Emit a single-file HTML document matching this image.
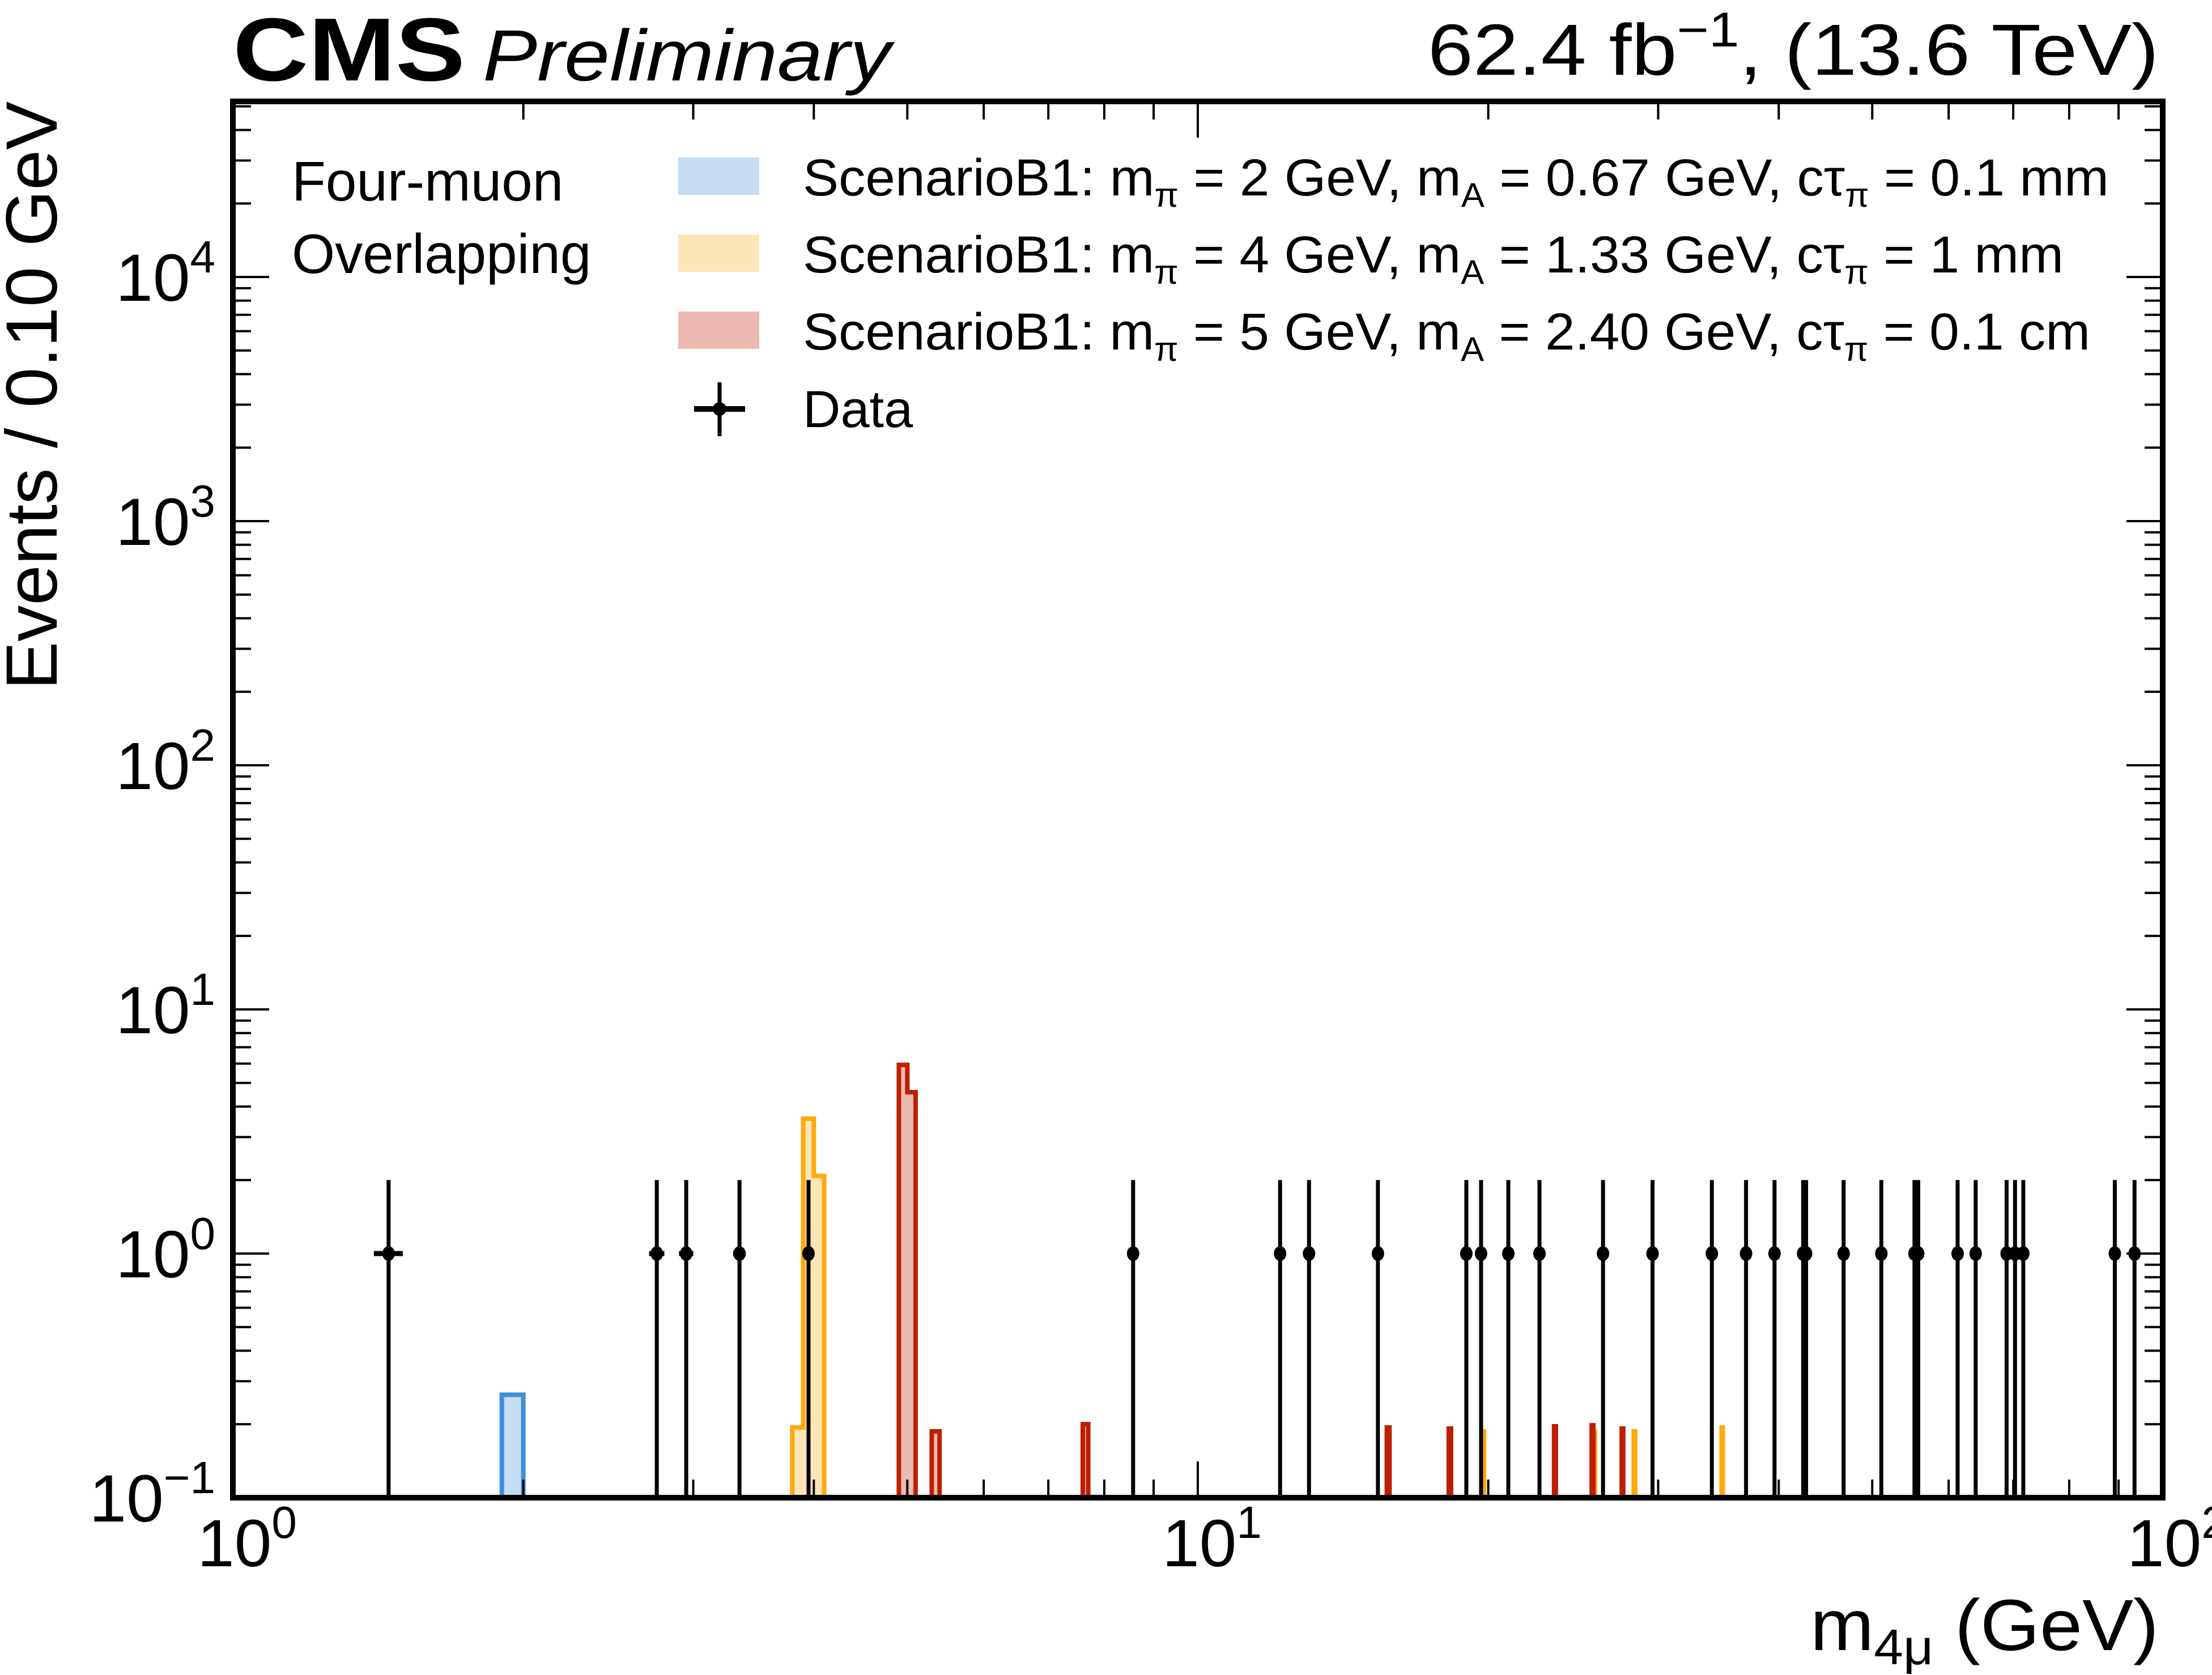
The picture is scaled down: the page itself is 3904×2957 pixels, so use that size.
<!DOCTYPE html>
<html><head><meta charset="utf-8"><style>
html,body{margin:0;padding:0;background:#fff;}
svg{display:block;font-family:"Liberation Sans",Arial,sans-serif;}
</style></head><body>
<svg id="chart" width="3904" height="2957" viewBox="0 0 3904 2957" xmlns="http://www.w3.org/2000/svg">
<rect x="0" y="0" width="3904" height="2957" fill="#fff"/>
<g id="plot"></g>
<g id="axes"></g>
<text x="411" y="142" font-size="158" font-weight="bold" textLength="410" lengthAdjust="spacingAndGlyphs">CMS</text>
<text x="852" y="142" font-size="128" font-style="italic" textLength="720" lengthAdjust="spacingAndGlyphs">Preliminary</text>
<text x="2520" y="132" font-size="128" textLength="1290" lengthAdjust="spacingAndGlyphs">62.4 fb<tspan dy="-50" font-size="86">−1</tspan><tspan dy="50">,  (13.6 TeV)</tspan></text>
<text transform="translate(100,179) rotate(-90)" font-size="128" text-anchor="end">Events / 0.10 GeV</text>
<text x="3195" y="2913" font-size="128" textLength="615" lengthAdjust="spacingAndGlyphs">m<tspan dy="25" font-size="88">4μ</tspan><tspan dy="-25"> (GeV)</tspan></text>
<g>
<text x="515" y="354" font-size="98">Four-muon</text>
<text x="515" y="482" font-size="98">Overlapping</text>
<rect x="1197" y="278" width="143" height="66" fill="#c5dcf2"/>
<rect x="1197" y="414" width="143" height="66" fill="#fde5b7"/>
<rect x="1197" y="550" width="143" height="66" fill="#ecbab1"/>
<text x="1417" y="345" font-size="92" textLength="2305" lengthAdjust="spacingAndGlyphs">ScenarioB1: m<tspan dy="20" font-size="60">π</tspan><tspan dy="-20"> = 2 GeV, m</tspan><tspan dy="20" font-size="60">A</tspan><tspan dy="-20"> = 0.67 GeV, cτ</tspan><tspan dy="20" font-size="60">π</tspan><tspan dy="-20"> =  0.1 mm</tspan></text>
<text x="1417" y="481" font-size="92" textLength="2225" lengthAdjust="spacingAndGlyphs">ScenarioB1: m<tspan dy="20" font-size="60">π</tspan><tspan dy="-20"> = 4 GeV, m</tspan><tspan dy="20" font-size="60">A</tspan><tspan dy="-20"> = 1.33 GeV, cτ</tspan><tspan dy="20" font-size="60">π</tspan><tspan dy="-20"> =  1 mm</tspan></text>
<text x="1417" y="617" font-size="92" textLength="2272" lengthAdjust="spacingAndGlyphs">ScenarioB1: m<tspan dy="20" font-size="60">π</tspan><tspan dy="-20"> = 5 GeV, m</tspan><tspan dy="20" font-size="60">A</tspan><tspan dy="-20"> = 2.40 GeV, cτ</tspan><tspan dy="20" font-size="60">π</tspan><tspan dy="-20"> =  0.1 cm</tspan></text>
<g>
<line x1="1270" y1="675" x2="1270" y2="770" stroke="#000" stroke-width="7"/>
<line x1="1225" y1="722" x2="1315" y2="722" stroke="#000" stroke-width="10"/>
<circle cx="1270" cy="722" r="12" fill="#000"/>
</g>
<text x="1417" y="754" font-size="92">Data</text>
</g>
</svg>
<script>
// ---- data ----
const dataMass = [1.45,2.75,2.95,3.35,3.95,8.57,12.17,13.04,15.37,18.98,19.66,20.98,22.6,26.3,29.6,34.1,37.0,39.6,42.4,42.7,46.7,51.1,55.3,55.8,61.3,64.0,68.9,70.3,71.7,89.2,93.5];
const dataCounts = [1,1,1,1,1,1,1,1,1,1,1,1,1,1,1,1,1,1,1,1,1,1,1,1,1,1,1,1,1,1,1];
const dataErrUp = [1,1,1,1,1,1,1,1,1,1,1,1,1,1,1,1,1,1,1,1,1,1,1,1,1,1,1,1,1,1,1];
const blueEdges = [1.9];
const blueValues = [0.264];
const orangeEdges = [3.8,3.9,4.0,19.7,25.7,28.3,34.9];
const orangeValues = [0.194,3.57,2.08,0.187,0.186,0.187,0.194];
const redEdges = [4.9,5.0,5.3,7.6,15.7,18.2,23.4,25.6,27.5];
const redValues = [5.93,4.58,0.187,0.2,0.194,0.192,0.196,0.198,0.192];
const binWidth = 0.1;
const xTickVals = [1,10,100];
const xTickExp = ["0","1","2"];
const yTickExp = ["−1","0","1","2","3","4"];

// ---- axes ----
const L=411,R=3817,T=179,B=2644;
const xmin=0,xmax=2; const ymin=-1, ymax=-1+(B-T)/431;
function X(v){return L+(Math.log10(v)-xmin)/(xmax-xmin)*(R-L);}
function Y(v){return B-(Math.log10(v)-ymin)/(ymax-ymin)*(B-T);}
const NS="http://www.w3.org/2000/svg";
const plot=document.getElementById('plot'), axes=document.getElementById('axes');
function mk(tag,attrs,parent){const e=document.createElementNS(NS,tag);for(const k in attrs)e.setAttribute(k,attrs[k]);parent.appendChild(e);return e;}

function drawHist(edges,vals,fill,stroke,name){
  let groups=[];let cur=null;
  edges.forEach((e,i)=>{
    if(cur && Math.abs(cur.end-e)<1e-6){cur.bins.push(i);cur.end=e+binWidth;}
    else{cur={bins:[i],end:e+binWidth};groups.push(cur);}
  });
  groups.forEach((g,gi)=>{
    let d='M'+X(edges[g.bins[0]])+','+B;
    g.bins.forEach(i=>{d+=' L'+X(edges[i])+','+Y(vals[i])+' L'+X(edges[i]+binWidth)+','+Y(vals[i]);});
    d+=' L'+X(edges[g.bins[g.bins.length-1]]+binWidth)+','+B;
    const p=mk('path',{d:d,fill:fill,stroke:stroke,'stroke-width':8,'stroke-linejoin':'miter'},plot);
    
    
  });
}
drawHist(blueEdges,blueValues,'#c5dcf2','#3f90da','hist-b1-2gev');
drawHist(orangeEdges,orangeValues,'#fde5b7','#ffa90e','hist-b1-4gev');
drawHist(redEdges,redValues,'#ecbab1','#bd1f01','hist-b1-5gev');

dataMass.forEach((m,i)=>{
  const g=mk('g',{},plot);
  
  
  const c=dataCounts[i];
  mk('line',{x1:X(m),x2:X(m),y1:Y(c+dataErrUp[i]),y2:B,stroke:'#000','stroke-width':7},g);
  mk('line',{x1:X(m-0.05),x2:X(m+0.05),y1:Y(c),y2:Y(c),stroke:'#000','stroke-width':9},g);
  mk('ellipse',{cx:X(m),cy:Y(c),rx:11,ry:13,fill:'#000'},g);
});

for(let d=0;d<2;d++){for(let k=1;k<=10;k++){
  const v=Math.pow(10,d)*k; if(v>100)break; const x=X(v); const major=(k===1||k===10);
  const len=major?64:32;
  const t1=mk('line',{x1:x,x2:x,y1:B,y2:B-len,stroke:'#000','stroke-width':4},axes);
  
  
  const t2=mk('line',{x1:x,x2:x,y1:T,y2:T+len,stroke:'#000','stroke-width':4},axes);
  
  
}}
for(let d=-1;d<5;d++){for(let k=1;k<10;k++){
  const v=Math.pow(10,d)*k; const y=Y(v); if(y<T)break; const len=(k===1)?64:32;
  const t1=mk('line',{x1:L,x2:L+len,y1:y,y2:y,stroke:'#000','stroke-width':4},axes);
  
  
  const t2=mk('line',{x1:R,x2:R-len,y1:y,y2:y,stroke:'#000','stroke-width':4},axes);
  
  
}}
const frame=mk('rect',{x:L,y:T,width:R-L,height:B-T,fill:'none',stroke:'#000','stroke-width':10},axes);



xTickVals.forEach((v,i)=>{
  const t=mk('text',{x:X(v)+25,y:2765,'font-size':118,'text-anchor':'middle'},axes);
  
  
  t.innerHTML='10<tspan dy="-50" font-size="80">'+xTickExp[i]+'</tspan>';
});
yTickExp.forEach((e,i)=>{
  const v=Math.pow(10,i-1);
  const t=mk('text',{x:380,y:Y(v)+42,'font-size':118,'text-anchor':'end'},axes);
  
  
  t.innerHTML='10<tspan dy="-50" font-size="80">'+e+'</tspan>';
});
</script>
</body></html>
